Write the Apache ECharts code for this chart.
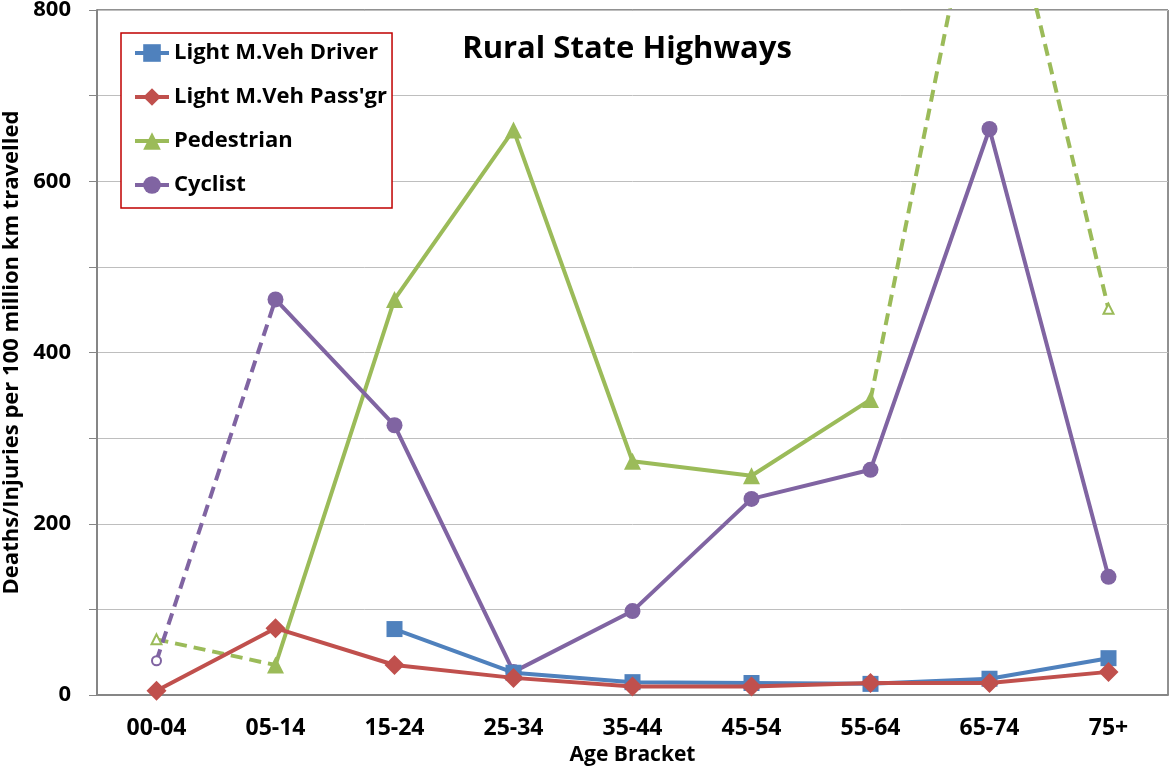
<!DOCTYPE html>
<html>
<head>
<meta charset="utf-8">
<script src="https://cdn.jsdelivr.net/npm/echarts@6/dist/echarts.min.js"></script>
<style>html,body{margin:0;padding:0;background:#fff}#c{width:1169px;height:769px}</style>
</head>
<body>
<div id="c"></div>
<script>
var categories = ['00-04','05-14','15-24','25-34','35-44','45-54','55-64','65-74','75+'];
var driver      = [null, null, 77, 26, 15, 14, 13, 19, 43];
var passenger   = [5, 78, 35, 20, 10, 10, 14, 14, 27];
var pedestrian  = [null, 35, 462, 660, 273, 256, 345, null, null];
var pedestrianEst = [65, 35, null, null, null, null, 345, 1030, 451];
var cyclist     = [null, 462, 315, 27, 98, 229, 263, 661, 138];
var cyclistEst  = [40, 462, null, null, null, null, null, null, null];
var yTicks = [0, 200, 400, 600, 800];

var FONT = '"Open Sans"';
var C = {blue:'#4F81BD', red:'#C0504D', green:'#9BBB59', purple:'#8064A2'};

function estData(arr, hollowIdx) {
  return arr.map(function (v, i) {
    if (v === null) return null;
    if (hollowIdx.indexOf(i) >= 0) return {value: v};
    return {value: v, symbol: 'none'};
  });
}

var chart = echarts.init(document.getElementById('c'), null, {renderer: 'canvas'});
chart.setOption({
  animation: false,
  backgroundColor: '#fff',
  title: {
    text: 'Rural State Highways', left: 622, top: 29, textAlign: 'center',
    textStyle: {fontFamily: FONT, fontWeight: 'bold', fontSize: 31, color: '#000'}
  },
  legend: {
    data: ['Light M.Veh Driver', "Light M.Veh Pass'gr", 'Pedestrian', 'Cyclist'],
    orient: 'vertical', left: 121, top: 33,
    padding: [8, 5, 11, 12], itemGap: 20, itemWidth: 34, itemHeight: 22,
    borderColor: '#C00000', borderWidth: 1.5, backgroundColor: '#fff',
    lineStyle: {width: 4},
    textStyle: {fontFamily: FONT, fontWeight: 'bold', fontSize: 22, color: '#000', lineHeight: 24}
  },
  grid: {left: 97, right: 1, top: 10, bottom: 74, containLabel: false, outerBoundsMode: 'none',
         show: true, borderColor: '#222', borderWidth: 1, backgroundColor: 'transparent'},
  xAxis: {
    type: 'category', data: categories, boundaryGap: true,
    name: 'Age Bracket', nameLocation: 'middle', nameGap: 50,
    nameTextStyle: {fontFamily: FONT, fontWeight: 'bold', fontSize: 21, color: '#000'},
    axisLine: {lineStyle: {color: '#868686', width: 2}},
    axisTick: {alignWithLabel: true, length: 7, lineStyle: {color: '#868686'}},
    axisLabel: {fontFamily: FONT, fontWeight: 'bold', fontSize: 23, color: '#000', margin: 22}
  },
  yAxis: {
    type: 'value', min: 0, max: 800, interval: 100,
    name: 'Deaths/Injuries per 100 million km travelled', nameLocation: 'middle', nameGap: 71,
    nameTextStyle: {fontFamily: FONT, fontWeight: 'bold', fontSize: 22, color: '#000'},
    axisLine: {show: true, lineStyle: {color: '#868686', width: 2}},
    axisTick: {show: true, length: 8, lineStyle: {color: '#868686'}},
    splitLine: {lineStyle: {color: '#BEBEBE', width: 1}},
    axisLabel: {
      fontFamily: FONT, fontWeight: 'bold', fontSize: 22, color: '#000', margin: 26,
      formatter: function (v) { return yTicks.indexOf(v) >= 0 ? String(v) : ''; }
    }
  },
  series: [
    {name: 'Pedestrian est', type: 'line', data: estData(pedestrianEst, [0, 8]), z: 1,
     symbol: 'emptyTriangle', symbolSize: 10, lineStyle: {color: C.green, width: 4, type: [12, 7]},
     itemStyle: {color: C.green, borderWidth: 2}},
    {name: 'Cyclist est', type: 'line', data: estData(cyclistEst, [0]), z: 1,
     symbol: 'emptyCircle', symbolSize: 9, lineStyle: {color: C.purple, width: 4, type: [12, 7]},
     itemStyle: {color: C.purple, borderWidth: 2}},
    {name: 'Light M.Veh Driver', type: 'line', data: driver, z: 3,
     symbol: 'rect', symbolSize: 16, lineStyle: {color: C.blue, width: 4},
     itemStyle: {color: C.blue}},
    {name: "Light M.Veh Pass'gr", type: 'line', data: passenger, z: 4,
     symbol: 'diamond', symbolSize: [20, 20], lineStyle: {color: C.red, width: 4},
     itemStyle: {color: C.red}},
    {name: 'Pedestrian', type: 'line', data: pedestrian, z: 2,
     symbol: 'triangle', symbolSize: 17, lineStyle: {color: C.green, width: 4},
     itemStyle: {color: C.green}},
    {name: 'Cyclist', type: 'line', data: cyclist, z: 2,
     symbol: 'circle', symbolSize: 16, lineStyle: {color: C.purple, width: 4},
     itemStyle: {color: C.purple}}
  ]
});
</script>
</body>
</html>
